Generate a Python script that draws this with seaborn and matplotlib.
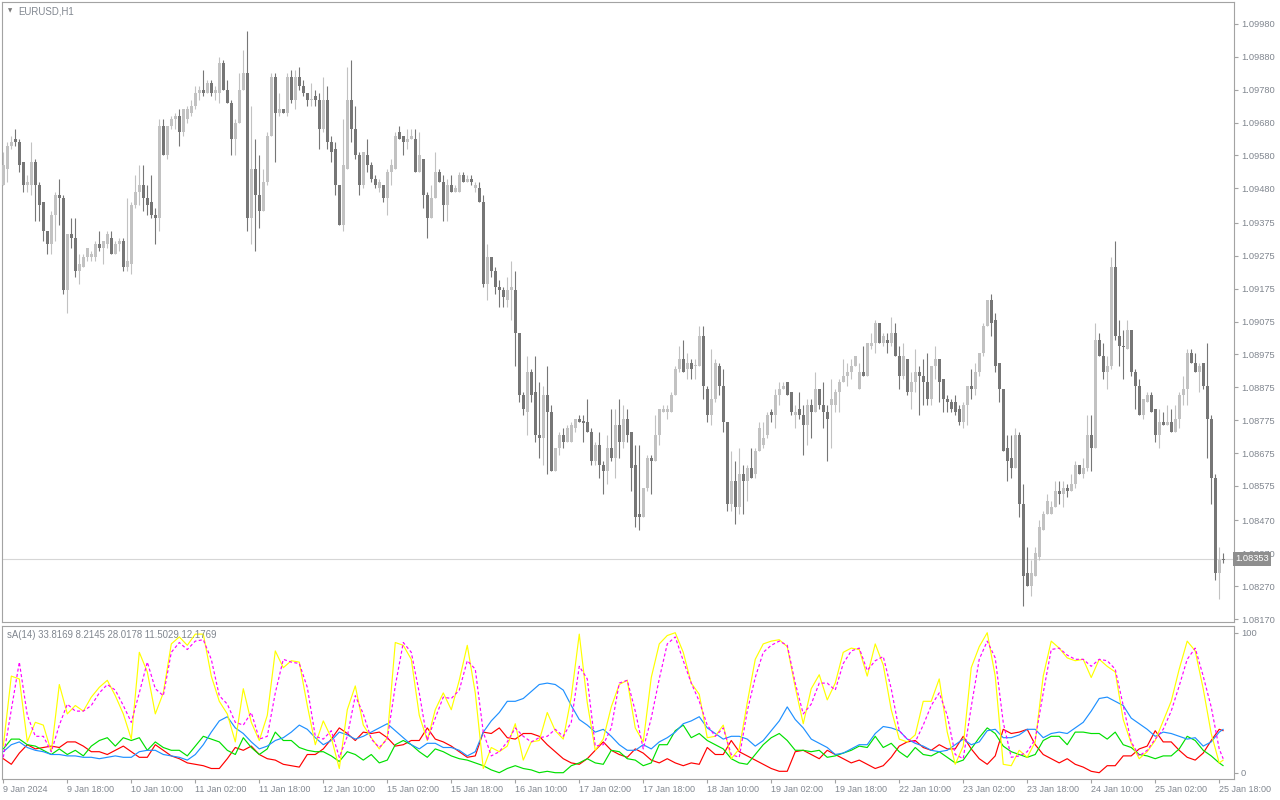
import numpy as np
import pandas as pd
import matplotlib
matplotlib.use("Agg")
import matplotlib.pyplot as plt
import seaborn as sns

# ---------------- data ----------------
SYMBOL = "EURUSD,H1"
BASE = 1.08000          # prices below are stored in pips above this base
PIP = 0.0001

open_pips = [
    149,154,161,163,162,156,149,149,156,149,
    144,135,131,140,146,145,117,134,133,123,
    124,127,127,127,131,130,131,133,128,131,
    132,124,125,143,147,149,145,144,140,139,
    167,158,167,169,170,165,169,171,173,177,
    178,177,180,177,177,186,178,174,163,168,
    178,183,139,154,146,141,150,164,182,171,
    172,171,182,175,182,179,177,175,176,175,
    166,175,162,160,149,137,154,175,166,158,
    149,158,155,151,148,149,145,153,154,165,
    164,162,163,163,153,157,146,139,145,153,
    150,143,149,147,147,152,150,151,148,148,
    144,119,127,123,118,117,114,117,117,104,
    85,80,92,86,73,72,85,80,62,69,
    73,71,71,75,78,77.3,77,74,65,70,
    64,62,69,66,76,71,78,74,64,49,
    48,57,66,65,73,80,80,80,85,93,
    96,93,95,94,94,103,87,79,84,94,
    88,77,52,59,51,61,59,63,61,68,
    70,73,80,79,85,87,89,86,79,81,
    79,76,82,80,87,82,80,82,82,86,
    89,91,92,94,87,92,91,100,101,107,
    101,102,101,104,97,91,96,86,89,92,
    91,89,84,94,96,90,84,83,83,81,
    77,82,88,87,92,98,106,114,108,95,
    87,69,66,63,73,52,31,27,30,36,
    44,49,49,51,56,55,57,56,58,64,
    61,63,73,69,102,97,92,94,124,103,
    100.2,99,105,92,88,79,83,85,81,73,
    77,76,77,74,78,85,87,98,95,92,
    95,88,78,60,31,35.4]

high_pips = [
    159,162,164,166,163,156,152,162,157,150,
    144,135,141,147,151,146,134,139,139,128,
    128,130,129,132,135,132,135,135,132,133,
    133,145,144,152,155,155,149,152,142,169,
    169,167,170,171,172,172,173,175,179,179,
    184,181,181,179,188,187,181,175,169,183,
    190,196,173,163,158,154,165,183,183,177,
    172,183,184,184,185,181,177,180,178,177,
    182,179,164,162,149,169,185,187,173,159,
    159,163,156,152,151,149,154,157,165,167,
    164,166,166,166,165,157,147,149,159,154,
    152,151,152,149,153,153,152,152,150,150,
    146,131,127,124,120,118,121,126,123,104,
    86,97,93,97,89,88,94,82,69,74,
    75,76,77,78,79,79,84,75,71,74,
    65,73,81,81,84,82,81,74,70,70,
    57,67,67,79,81,82,82,86,94,100,
    102,98,96,96,106,106,88,99,96,95,
    93,77,68,65,69,64,64,69,69,77,
    77,80,81,87,89,89,89,86,82,86,
    82,84,84,92,87,89,82,90,87,90,
    96,95,96,97,95,100,101,104,108,107,
    104,104,109,107,100,101,96,92,99,94,
    96,98,94,100,96,90,85,84,85,82,
    83,88,93,95,98,107,114,116,110,95,
    87,73,73,75,74,58,39,35,39,47,
    50,55,53,59,59,59,58,61,65,64,
    66,79,79,107,104,101,97,127,132,108,
    105,108,105,93,90,84,86,86,81,81,
    80,82,81,82,86,91,99,99,98,95,
    95,101,79,61,39,37]

low_pips = [
    149,150,160,161,153,147,147,146,138,138,
    132,128,128,132,137,116,110,130,121,119,
    124,126,126,126,129,125,130,128,128,129,
    123,123,122,142,143,141,140,139,131,135,
    158,157,166,166,161,164,168,170,172,175,
    176,177,176,175,174,178,174,158,158,168,
    178,135,131,129,136,141,149,164,156,170,
    171,170,174,172,178,176,173,173,173,160,
    165,160,156,146,137,135,154,162,157,146,
    148,153,150,148,147,144,140,149,154,163,
    158,160,163,153,153,142,133,139,145,150,
    138,138,147,147,147,150,150,149,147,144,
    118,114,121,116,112,112,112,108,94,83,
    79,73,83,71,66,64,61,62,62,67,
    69,71,71,74,77,71,74,64,64,60,
    55,58,65,60,66,69,71,56,45,44,
    48,56,55,65,70,80,78,80,85,92,
    92,90,90,90,94,84,77,76,83,85,
    74,50,50,46,49,49,53,60,60,68,
    69,72,77,75,82,87,85,79,75,78,
    67,70,72,80,81,75,65,69,80,80,
    89,88,90,94,87,91,91,99,98,101,
    100,98,100,97,87,90,85,81,86,79,
    82,82,82,90,83,80,80,80,79,76,
    75,76,84,85,91,97,106,103,92,83,
    68,59,60,63,48,21,27,24,30,35,
    44,49,49,51,52,51,54,56,57,61,
    60,62,62,69,97,90,87,93,102,94,
    90,99,91,81,79,78,83,80,71,69,
    76,76,74,74,75,82,82,95,92,86,
    87,66,52,29,23,34]

close_pips = [
    155,161,162,162,155,149,150,156,149,143,
    135,131,140,146,145,117,134,133,123,125,
    127,130,128,131,130,132,134,128,131,132,
    124,126,143,147,149,145,143,140,139,167,
    158,167,169,170,165,172,172,173,177,178,
    177,180,177,178,186,178,174,163,168,178,
    183,139,154,146,141,150,164,182,171,172,
    171,182,175,182,179,177,175,175,175,166,
    175,162,159,149,137,155,175,166,158,149,
    159,155,151,149,150,145,153,155,164,163,
    162,163,164,153,158,146,139,145,153,150,
    143,149,147,148,152,150,151,150,149,144,
    119,127,123,118,117,115,117,118,104,85,
    81,92,85,73,72,85,80,62,69,73,
    71,75,76,78,77,76.5,74,65,70,64,
    62,69,66,76,71,78,73,63,48,48,
    57,66,65,73,81,81,81,85,93,96,
    92,95,93,94,103,88,79,84,95,88,
    77,52,59,51,61,59,63,60,68,75,
    72,79,79,85,87,88,85,80,80,79,
    76,82,80,87,82,80,78,84,86,89,
    91,92,94,97,92,91,101,101,107,101,
    103,101,104,97,91,97,86,89,92,91,
    89,84,94,96,89,84,83,81,80,77,
    82,88,87,92,98,106,114,107,94,87,
    68,65,63,73,52,30,27,31,37,45,
    49,53,51,56,55,57,56,58,64,61,
    63,73,69,102,97,92,94,124,103,100,
    99.8,105,92,88,79,84,85,80,73,77,
    76,77,74,78,85,87,98,95,92,94,
    88,78,60,31,35,35.0]

LAST_PRICE = 1.08353

price_ticks = [1.09980, 1.09880, 1.09780, 1.09680, 1.09580, 1.09480, 1.09375,
               1.09275, 1.09175, 1.09075, 1.08975, 1.08875, 1.08775, 1.08675,
               1.08575, 1.08470, 1.08370, 1.08270, 1.08170]

time_labels = ["9 Jan 2024", "9 Jan 18:00", "10 Jan 10:00", "11 Jan 02:00",
               "11 Jan 18:00", "12 Jan 10:00", "15 Jan 02:00", "15 Jan 18:00",
               "16 Jan 10:00", "17 Jan 02:00", "17 Jan 18:00", "18 Jan 10:00",
               "19 Jan 02:00", "19 Jan 18:00", "22 Jan 10:00", "23 Jan 02:00",
               "23 Jan 18:00", "24 Jan 10:00", "25 Jan 02:00", "25 Jan 18:00"]
LABEL_EVERY = 16   # bars between time labels

IND_TITLE = "sA(14) 33.8169 8.2145 28.0178 11.5029 12.1769"
# indicator values, read every second bar (bars 0,2,...,304) plus the last bar 305
ind_yellow = [
    19,69,67,22,36,34,15,63,42,48,
    44,54,61,66,55,42,24,86,72,42,
    57,92,97,91,99,99,69,51,42,22,
    60,36,23,41,87,75,80,79,48,20,
    37,25,3,45,62,34,25,17,25,93,
    91,81,41,23,45,57,45,66,91,57,
    3,18,15,19,35,9,22,23,43,30,
    24,54,99,50,16,24,47,63,66,32,
    22,68,92,98,100,86,64,56,25,26,
    34,10,17,50,81,92,94,95,90,61,
    35,60,70,52,64,86,89,88,69,92,
    77,45,24,22,27,51,51,67,29,6,
    19,75,90,100,69,6,5,16,11,22,
    69,94,89,82,80,81,68,81,76,72,
    38,21,10,15,23,37,51,74,94,87,
    60,28,7,9]
ind_magenta = [
    11,45,79,41,26,26,15,34,49,44,
    44,48,57,63,59,48,36,57,79,60,
    55,86,93,88,94,95,81,55,49,36,
    34,43,24,26,57,81,79,78,61,26,
    24,30,11,26,55,42,24,18,24,62,
    93,86,57,23,39,54,53,59,80,74,
    29,12,15,22,32,26,22,25,26,31,
    26,36,76,67,19,20,32,64,66,44,
    17,39,67,92,97,80,64,51,34,26,
    32,13,11,44,68,86,91,94,91,64,
    42,49,64,64,59,78,87,89,73,80,
    83,60,30,24,22,34,48,57,41,13,
    10,47,81,94,82,36,11,12,15,24,
    57,88,89,84,81,81,76,81,80,74,
    48,22,12,16,24,31,44,62,81,89,
    69,47,17,10]
ind_blue = [
    15,20,22,18,16,15,13,13,12,12,
    11,11,10,11,12,11,11,15,16,16,
    13,12,11,9,13,20,29,37,40,32,
    28,22,17,19,23,25,29,34,31,25,
    20,23,29,27,24,26,29,32,35,30,
    25,20,17,21,21,18,18,16,12,15,
    29,37,43,51,51,53,58,63,64,63,
    59,48,38,34,29,31,26,20,16,16,
    20,17,22,25,29,35,37,40,32,28,
    24,26,26,24,19,23,30,37,47,38,
    32,24,21,18,13,14,17,20,20,28,
    33,32,30,24,21,19,16,15,16,20,
    24,20,22,30,31,25,25,27,31,31,
    25,28,29,28,32,36,44,53,54,51,
    48,39,35,31,26,29,28,26,24,25,
    19,22,29,31]
ind_green = [
    17,24,24,20,19,16,13,17,13,16,
    12,19,23,25,19,25,23,25,16,22,
    18,16,16,12,19,26,24,22,16,13,
    25,18,13,17,29,23,23,18,16,15,
    15,12,8,15,13,9,13,7,9,20,
    23,20,15,11,17,15,12,10,9,7,
    5,2,0,3,5,3,2,0,1,0,
    0,5,7,10,7,6,16,15,10,9,
    5,7,20,20,30,34,25,28,23,20,
    17,10,7,6,13,20,25,28,23,16,
    16,15,16,11,12,14,16,19,18,26,
    18,21,15,11,18,13,12,15,11,7,
    9,17,25,32,28,19,15,13,11,13,
    23,26,26,20,29,29,28,28,24,29,
    20,18,13,12,10,12,12,17,26,23,
    16,12,7,5]
ind_red = [
    10,6,14,20,17,18,19,18,22,22,
    19,15,15,13,16,19,15,11,11,20,
    16,12,10,7,6,5,3,3,10,18,
    16,19,13,10,9,6,5,4,13,13,
    17,24,32,28,23,29,28,29,25,19,
    20,23,23,32,24,22,19,15,11,12,
    29,28,32,25,24,28,28,26,20,15,
    10,7,6,10,16,22,16,13,11,17,
    14,9,7,10,7,5,7,6,18,13,
    13,23,15,12,9,6,3,1,1,15,
    16,13,10,16,13,10,7,9,6,3,
    5,11,19,22,23,18,16,20,17,17,
    26,17,10,6,12,31,28,29,31,20,
    13,10,7,10,6,4,1,0,5,5,
    12,12,17,19,30,22,22,16,11,9,
    14,23,31,30]

# ---------------- build frames ----------------
n = len(close_pips)
assert len(open_pips) == n and len(high_pips) == n and len(low_pips) == n
bars = pd.DataFrame({
    "bar": np.arange(n),
    "open": BASE + np.array(open_pips) * PIP,
    "high": BASE + np.array(high_pips) * PIP,
    "low": BASE + np.array(low_pips) * PIP,
    "close": BASE + np.array(close_pips) * PIP,
})
bars["bull"] = bars["close"] >= bars["open"]

ind_bars = list(range(0, n - 1, 2)) + [n - 1]
ind = pd.DataFrame({"bar": ind_bars, "yellow": ind_yellow, "magenta": ind_magenta,
                    "blue": ind_blue, "green": ind_green, "red": ind_red})

# ---------------- style ----------------
sns.set_theme(style="white")
plt.rcParams["font.family"] = ["Liberation Sans", "DejaVu Sans"]
TXT = "#80868f"
FRAME = "#a3a3a3"
BULL = "#c2c2c2"
BEAR = "#767676"

W, H = 1280, 800
fig = plt.figure(figsize=(W / 100, H / 100), dpi=100)
fig.patch.set_facecolor("white")

def box(x0, y0, x1, y1):
    return [x0 / W, 1 - y1 / H, (x1 - x0) / W, (y1 - y0) / H]

ax = fig.add_axes(box(2, 2, 1234, 622))
ax2 = fig.add_axes(box(2, 626, 1234, 779), sharex=ax)

for a in (ax, ax2):
    a.set_facecolor("white")
    for s in a.spines.values():
        s.set_color(FRAME)
        s.set_linewidth(0.8)

# ---------------- candles ----------------
colors = np.where(bars["bull"], BULL, BEAR)
ax.vlines(bars["bar"], bars["low"], bars["high"], colors=colors, linewidth=0.8, zorder=2)
body_low = np.minimum(bars["open"], bars["close"])
body_h = np.maximum((bars["close"] - bars["open"]).abs(), 0.3 * PIP)
ax.bar(bars["bar"], body_h, bottom=body_low, width=0.74, color=colors,
       linewidth=0, zorder=3)

ax.axhline(LAST_PRICE, color="#d6d6d6", linewidth=0.8, zorder=1)

YLO, YHI = 1.08161, 1.100469
ax.set_xlim(-0.33, 307.7)
ax.set_ylim(YLO, YHI)
ax.yaxis.tick_right()
ax.set_yticks(price_ticks)
ax.set_yticklabels([f"{p:.5f}" for p in price_ticks])
ax.tick_params(axis="y", which="both", right=True, left=False, direction="out",
               length=3, width=0.8, color=FRAME, labelcolor=TXT, labelsize=6.7, pad=2)
ax.tick_params(axis="x", bottom=False, labelbottom=False)

ax.text(1.0012, (LAST_PRICE - YLO) / (YHI - YLO), f"{LAST_PRICE:.5f}",
        transform=ax.transAxes, ha="left", va="center", color="white", fontsize=6.7,
        zorder=10, clip_on=False,
        bbox=dict(boxstyle="square,pad=0.25", facecolor="#8e8e8e", edgecolor="none"))

fig.text(7.5 / W, 1 - 10.5 / H, "\u25bc", fontsize=4, color="#7a7a7a", ha="left",
         va="center", family="DejaVu Sans")
fig.text(18 / W, 1 - 11 / H, SYMBOL, fontsize=6.9, color=TXT, ha="left", va="center")

# ---------------- indicator ----------------
line_specs = [("red", "#ff0000", "-"), ("green", "#00e000", "-"),
              ("blue", "#1e90ff", "-"), ("yellow", "#ffff00", "-"),
              ("magenta", "#ff00ff", (0, (2.6, 2.0)))]
for z, (col, c, ls) in enumerate(line_specs):
    sns.lineplot(data=ind, x="bar", y=col, ax=ax2, color=c, linewidth=0.85,
                 linestyle=ls, legend=False, zorder=3 + z, estimator=None)

ax2.set_ylim(-4.5, 104.8)
ax2.set_xlabel("")
ax2.set_ylabel("")
ax2.yaxis.tick_right()
ax2.set_yticks([0, 100])
ax2.set_yticklabels(["0", "100"])
ax2.tick_params(axis="y", right=True, left=False, direction="out", length=3,
                width=0.8, color=FRAME, labelcolor=TXT, labelsize=6.7, pad=2)
tick_pos = np.arange(len(time_labels)) * LABEL_EVERY
ax2.set_xticks(tick_pos)
ax2.set_xticklabels(time_labels)
ax2.tick_params(axis="x", bottom=True, direction="out", length=3, width=0.8,
                color=FRAME, labelcolor=TXT, labelsize=6.5, pad=1.5)
for lbl in ax2.get_xticklabels():
    lbl.set_ha("left")
ax2.text(0.004, 0.975, IND_TITLE, transform=ax2.transAxes, ha="left", va="top",
         fontsize=6.9, color=TXT, zorder=20)

fig.savefig("out.png", dpi=100, facecolor="white")
